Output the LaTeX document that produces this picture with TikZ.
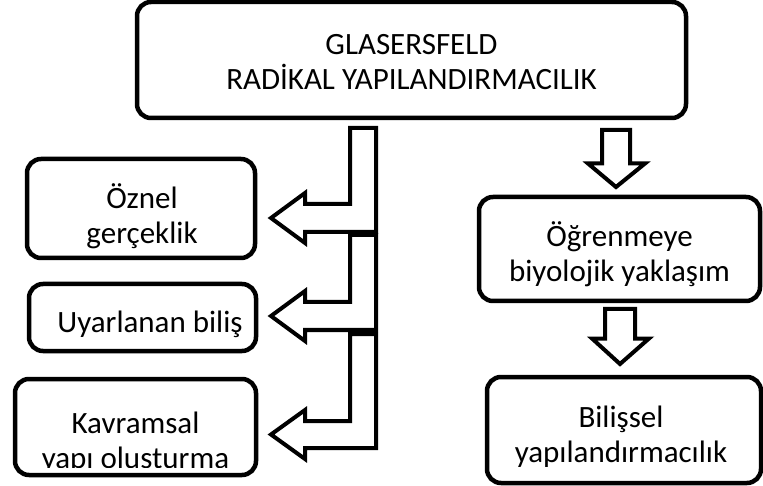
\documentclass[tikz,border=0pt]{standalone}
\usepackage{fontspec}
\setmainfont{Carlito}
\newcommand{\branchArrow}[3]{% #1: top edge, #2: shaft top, #3: shaft bottom
  \draw[blockarrow] (350,#1) -- (376,#1) -- (376,#3) -- (305,#3) -- (305,{#3+11})
    -- (271,{(#2+#3)/2}) -- (305,{#2-11}) -- (305,#2) -- (350,#2) -- cycle;}
\begin{document}
\begin{tikzpicture}[x=1pt,y=-1pt,
  box/.style={draw=black, line width=4.5pt, rounded corners=14pt, fill=white, inner sep=0pt},
  boxtext/.style={align=center, inner sep=0pt, font=\fontsize{31}{35}\selectfont},
  blockarrow/.style={draw=black, line width=4pt, fill=white, line join=miter, miter limit=10}]
\useasboundingbox (0,0) rectangle (763,486);

% main concept
\node[box, minimum width=549pt, minimum height=116pt] (main) at (411.5,60) {};
\node[boxtext] (maintext) at (411.5,62) {GLASERSFELD\\RADİKAL YAPILANDIRMACILIK};

% left column
\node[box, minimum width=228pt, minimum height=99pt] (oznel) at (141,208.5) {};
\node[boxtext] (ozneltext) at (142,216) {Öznel\\gerçeklik};
\node[box, minimum width=227pt, minimum height=67pt] (uyar) at (142.5,317.5) {};
\node[boxtext] (uyartext) at (150,324) {Uyarlanan biliş};
\node[box, minimum width=241pt, minimum height=96pt] (kavram) at (135.5,427) {};
\begin{scope}
  \clip (15,379) rectangle (256,467);
  \node[boxtext] (kavramtext) at (135.5,443) {Kavramsal\\yapı oluşturma};
\end{scope}

% right column
\node[box, minimum width=281pt, minimum height=104pt] (ogren) at (619.5,249) {};
\node[boxtext] (ogrentext) at (619.5,254) {Öğrenmeye\\biyolojik yaklaşım};
\node[box, minimum width=274pt, minimum height=106pt] (bilis) at (624,430) {};
\node[boxtext] (bilistext) at (621,437) {Bilişsel\\yapılandırmacılık};

% branching block arrows towards the left column
\branchArrow{128}{204}{232}
\branchArrow{235}{302}{330}
\branchArrow{334}{421}{448}

% hollow down arrows in the right column
\draw[blockarrow] (602,130) -- (630,130) -- (630,163.5) -- (645,163.5) -- (616,187)
  -- (588,163.5) -- (602,163.5) -- cycle;
\draw[blockarrow] (605,309) -- (635,309) -- (635,338.5) -- (649,338.5) -- (620,364)
  -- (592,338.5) -- (605,338.5) -- cycle;
\end{tikzpicture}
\end{document}
